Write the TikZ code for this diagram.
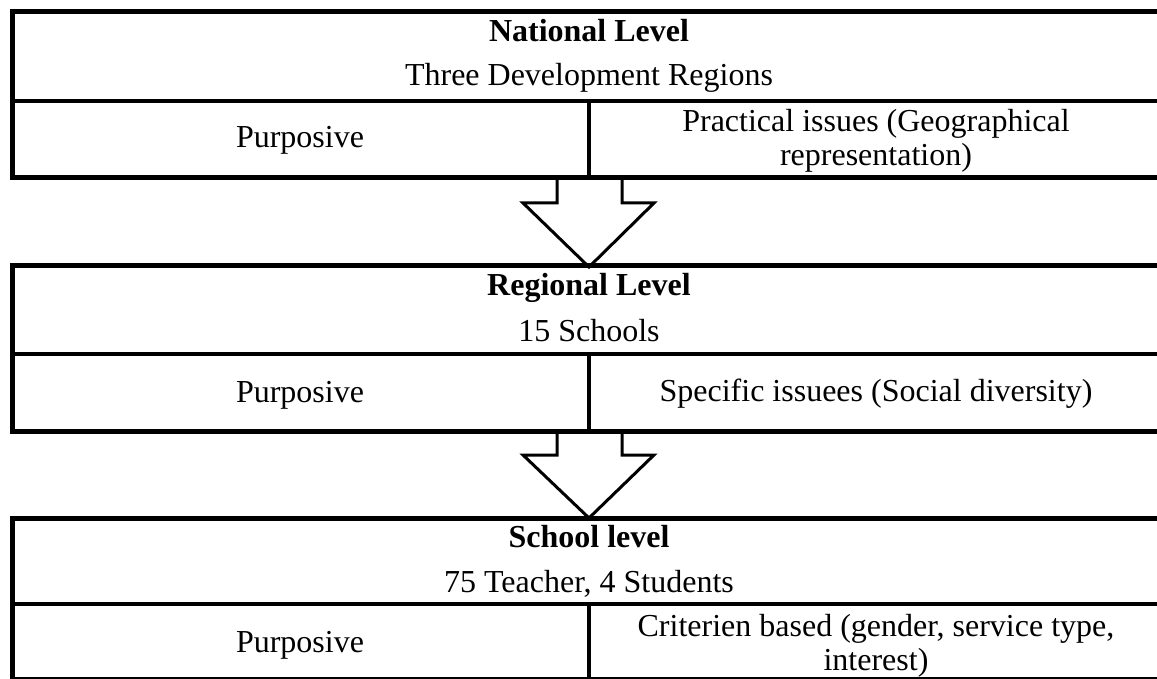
\documentclass[tikz,border=0pt]{standalone}
\usepackage{fontspec}
\setmainfont{Liberation Serif}
\begin{document}
\begin{tikzpicture}[x=1pt,y=-1pt,
  outerline/.style={line width=5pt},
  innerline/.style={line width=4pt},
  celltext/.style={font=\fontsize{32}{34}\selectfont, inner sep=0pt, align=center},
  basetext/.style={font=\fontsize{32}{34}\selectfont, inner sep=0pt, anchor=base},
  titletext/.style={font=\fontsize{32}{34}\selectfont\bfseries, inner sep=0pt, anchor=base},
  blockarrow/.style={draw, line width=3pt, fill=white, line join=miter}]
\useasboundingbox (0,0) rectangle (1157,679);
\clip (0,0) rectangle (1157,679);

% block arrows (drawn first, so the table lines lie on top)
\coordinate (a1) at (557,178);
\coordinate (a2) at (557,431);
\draw[blockarrow] (a1) -- ++(0,25) -- ++(-34,0) -- ++(66,64) -- ++(65,-64) -- ++(-32,0) -- ++(0,-25);
\draw[blockarrow] (a2) -- ++(0,24) -- ++(-34,0) -- ++(66,63) -- ++(65,-63) -- ++(-32,0) -- ++(0,-24);

% table 1
\draw[outerline] (12,12) rectangle (1175,178);
\draw[innerline] (12,101) -- (1175,101);
\draw[innerline] (589,101) -- (589,178);
\node[titletext] (t1) at (589,42) {National Level};
\node[basetext] (s1) at (589,86) {Three Development Regions};
\node[basetext] (l1) at (300,148) {Purposive};
\node[celltext] (r1) at (876,141) {Practical issues (Geographical\\representation)};

% table 2
\draw[outerline] (12,266) rectangle (1175,431);
\draw[innerline] (12,354) -- (1175,354);
\draw[innerline] (589,354) -- (589,431);
\node[titletext] (t2) at (589,295) {Regional Level};
\node[basetext] (s2) at (589,341) {15 Schools};
\node[basetext] (l2) at (300,402) {Purposive};
\node[basetext] (r2) at (876,401) {Specific issuees (Social diversity)};

% table 3
\draw[outerline] (12,518) rectangle (1175,679);
\draw[innerline] (12,604) -- (1175,604);
\draw[innerline] (589,604) -- (589,679);
\node[titletext] (t3) at (589,547) {School level};
\node[basetext] (s3) at (589,592) {75 Teacher, 4 Students};
\node[basetext] (l3) at (300,652) {Purposive};
\node[celltext] (r3) at (876,646) {Criterien based (gender, service type,\\interest)};
\end{tikzpicture}
\end{document}
